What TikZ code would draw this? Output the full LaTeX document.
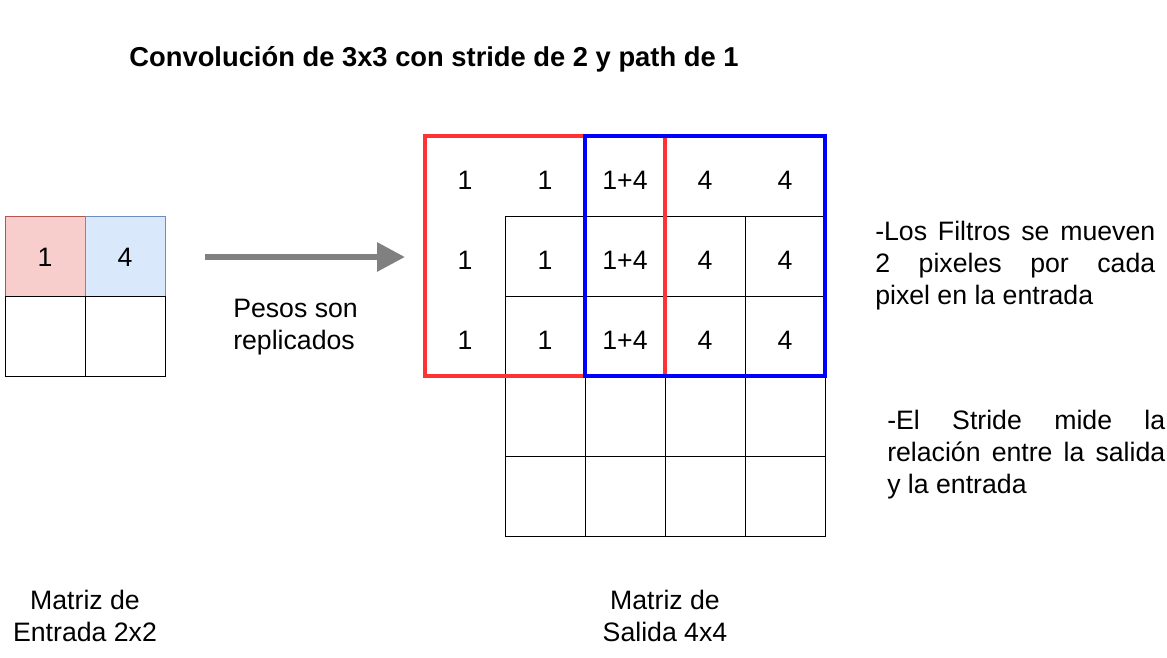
\documentclass[tikz,border=0pt]{standalone}
\usepackage{fontspec}
\setmainfont{Liberation Sans}
\usetikzlibrary{arrows.meta}
\definecolor{pinkfill}{HTML}{F8CECC}
\definecolor{pinkline}{HTML}{B85450}
\definecolor{bluefill}{HTML}{DAE8FC}
\definecolor{blueline}{HTML}{6C8EBF}
\definecolor{redbox}{HTML}{FF3333}
\definecolor{arrowgray}{HTML}{808080}
\tikzset{
	txt/.style={inner sep=0pt, font=\fontsize{20}{24.2}\selectfont},
	num/.style={txt},
	cell/.style={line width=0.75pt, draw=black},
	side/.style={txt, anchor=north west, align=justify, text width=#1},
}

\begin{document}
\begin{tikzpicture}[x=0.75pt, y=-0.75pt]
			%%%%% START %%%%%
			\useasboundingbox (0, 0) rectangle (1167, 657);
			
			\node[txt, font=\fontsize{20.5}{24}\selectfont\bfseries] (title) at (434, 59) {Convolución de 3x3 con stride de 2 y path de 1};
			
			% entrada 2x2
			\draw[line width=0.75pt, draw=pinkline, fill=pinkfill] (5, 216) rectangle (85, 296);
			\draw[line width=0.75pt, draw=blueline, fill=bluefill] (85, 216) rectangle (165, 296);
			\draw[cell] (5, 296) rectangle (85, 376);
			\draw[cell] (85, 296) rectangle (165, 376);
			\node[num] (in1) at (45, 257) {1};
			\node[num] (in4) at (125, 257) {4};
			
			% flecha
			\coordinate (arrowA) at (205, 257);
			\coordinate (arrowB) at (405, 257);
			\draw[line width=4.5pt, color=arrowgray, -{Triangle[length=21pt, width=21pt]}] (arrowA) -- (arrowB);
			\node[txt, anchor=north west, align=left] (pesos) at (233, 298.5) {Pesos son\\replicados};
			
			% salida 4x4
			\foreach \i in {0,...,3}
				\foreach \j in {0,...,3}
					\draw[cell] ({505+80*\i}, {216+80*\j}) rectangle ({585+80*\i}, {296+80*\j});
			
			\foreach \r in {0,1,2} {
				\node[num] (a\r) at (465, {180+80*\r}) {1};
				\node[num] (b\r) at (545, {180+80*\r}) {1};
				\node[num] (c\r) at (625, {180+80*\r}) {1+4};
				\node[num] (d\r) at (705, {180+80*\r}) {4};
				\node[num] (e\r) at (785, {180+80*\r}) {4};
			}
			
			\draw[line width=3pt, color=redbox] (425, 136) rectangle (665, 376);
			\draw[line width=3pt, color=blue] (585, 136) rectangle (825, 376);
			
			% textos
			\node[side=210pt] (filtros) at (875, 220.5) {-Los Filtros se mueven\linebreak 2 pixeles por cada\linebreak pixel en la entrada};
			\node[side=208.5pt] (stride) at (887, 409.5) {-El Stride mide la\linebreak relación entre la salida\linebreak y la entrada};
			
			\node[txt, anchor=north, align=center] (entrada) at (85, 589.5) {Matriz de\\Entrada 2x2};
			\node[txt, anchor=north, align=center] (salida) at (665, 589.5) {Matriz de\\Salida 4x4};
			%%%%% END %%%%%
\end{tikzpicture}
\end{document}
